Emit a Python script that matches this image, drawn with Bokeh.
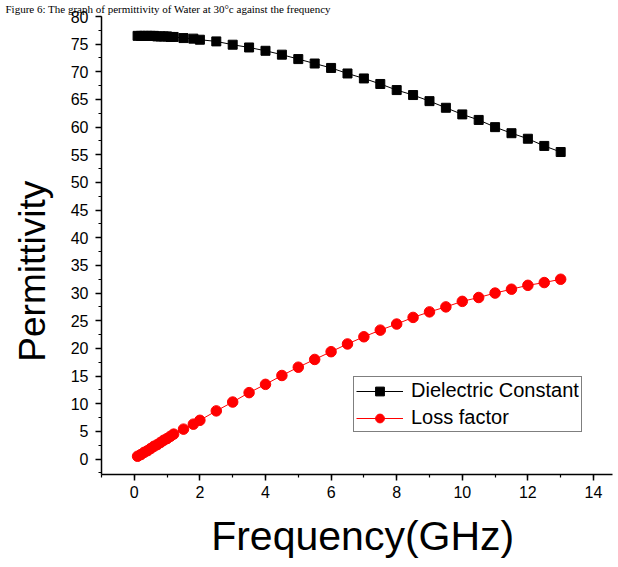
from bokeh.plotting import figure
from bokeh.models import SingleIntervalTicker
from bokeh.embed import file_html
from bokeh.resources import INLINE

# Data
freq_ghz = [0.1, 0.2, 0.3, 0.4, 0.5, 0.6, 0.7, 0.8, 0.9, 1.0, 1.1, 1.2,
            1.5, 1.8, 2.0, 2.5, 3.0, 3.5, 4.0, 4.5, 5.0, 5.5, 6.0, 6.5,
            7.0, 7.5, 8.0, 8.5, 9.0, 9.5, 10.0, 10.5, 11.0, 11.5, 12.0,
            12.5, 13.0]
dielectric_constant = [76.5, 76.5, 76.5, 76.5, 76.5, 76.5, 76.4, 76.4, 76.4,
                       76.4, 76.3, 76.3, 76.1, 76.0, 75.8, 75.5, 74.9, 74.4,
                       73.8, 73.1, 72.3, 71.5, 70.7, 69.7, 68.8, 67.8, 66.7,
                       65.8, 64.7, 63.5, 62.3, 61.3, 60.0, 58.9, 57.9, 56.6,
                       55.5]
loss_factor = [0.5, 0.8, 1.2, 1.5, 1.9, 2.3, 2.6, 3.0, 3.4, 3.7, 4.1, 4.5,
               5.4, 6.3, 7.0, 8.7, 10.3, 12.0, 13.5, 15.1, 16.6, 18.0, 19.4,
               20.8, 22.1, 23.3, 24.4, 25.6, 26.6, 27.5, 28.5, 29.2, 30.0,
               30.7, 31.4, 31.9, 32.5]

series_names = ["Dielectric Constant", "Loss factor"]
x_title = "Frequency(GHz)"
y_title = "Permittivity"
caption = ("Figure 6: The graph of permittivity of Water at 30\u00b0c "
           "against the frequency")

FONT = "Liberation Sans"
NBSP = "\u00a0"

p = figure(width=618, height=567, x_range=(-1, 14.58), y_range=(-2.8, 80),
           output_backend="svg", toolbar_location=None,
           min_border_left=101, min_border_right=6, min_border_top=16,
           min_border_bottom=93)
p.outline_line_color = None
p.xgrid.visible = False
p.ygrid.visible = False
p.background_fill_color = "white"
p.border_fill_color = "white"

p.title.text = caption
p.title.text_font = "Liberation Serif"
p.title.text_font_size = "11px"
p.title.text_font_style = "normal"
p.title.text_color = "black"
p.title.standoff = 0
p.title.offset = -96
p.title.align = "left"
p.title.vertical_align = "top"

p.xaxis.ticker = SingleIntervalTicker(interval=2, num_minor_ticks=2)
p.yaxis.ticker = SingleIntervalTicker(interval=5, num_minor_ticks=2)
for ax in (p.xaxis, p.yaxis):
    ax.axis_line_color = "black"
    ax.axis_line_width = 1.5
    ax.major_tick_line_color = "black"
    ax.major_tick_line_width = 1.5
    ax.minor_tick_line_color = "black"
    ax.minor_tick_line_width = 1.2
    ax.major_tick_out = 6
    ax.major_tick_in = 0
    ax.minor_tick_out = 3
    ax.minor_tick_in = 0
    ax.major_label_text_font = FONT
    ax.major_label_text_font_size = "16px"
    ax.major_label_text_color = "black"
    ax.axis_label_text_font = FONT
    ax.axis_label_text_font_style = "normal"
    ax.axis_label_text_color = "black"
p.xaxis.major_label_standoff = 5
p.yaxis.major_label_standoff = 7

p.xaxis.axis_label = NBSP + x_title
p.xaxis.axis_label_text_font_size = "41px"
p.xaxis.axis_label_standoff = 12
p.yaxis.axis_label = y_title + NBSP * 5
p.yaxis.axis_label_text_font_size = "37px"
p.yaxis.axis_label_standoff = 15

p.line(freq_ghz, dielectric_constant, line_color="black", line_width=1,
       legend_label=series_names[0])
p.scatter(freq_ghz, dielectric_constant, marker="square", size=9,
          fill_color="black", line_color="black",
          legend_label=series_names[0])
p.line(freq_ghz, loss_factor, line_color="#ff0000", line_width=1,
       legend_label=series_names[1])
p.scatter(freq_ghz, loss_factor, marker="circle", size=10.5,
          fill_color="#ff0000", line_color="#ff0000",
          legend_label=series_names[1])

lg = p.legend[0]
lg.location = (252, 42)
lg.border_line_color = "black"
lg.border_line_width = 1
lg.background_fill_color = "white"
lg.background_fill_alpha = 1
lg.label_text_font = FONT
lg.label_text_font_size = "20px"
lg.label_text_color = "black"
lg.glyph_width = 47
lg.glyph_height = 22
lg.label_height = 22
lg.label_standoff = 8
lg.padding = 2
lg.spacing = 4
lg.margin = 0

open("out.html", "w").write(file_html(p, INLINE))
